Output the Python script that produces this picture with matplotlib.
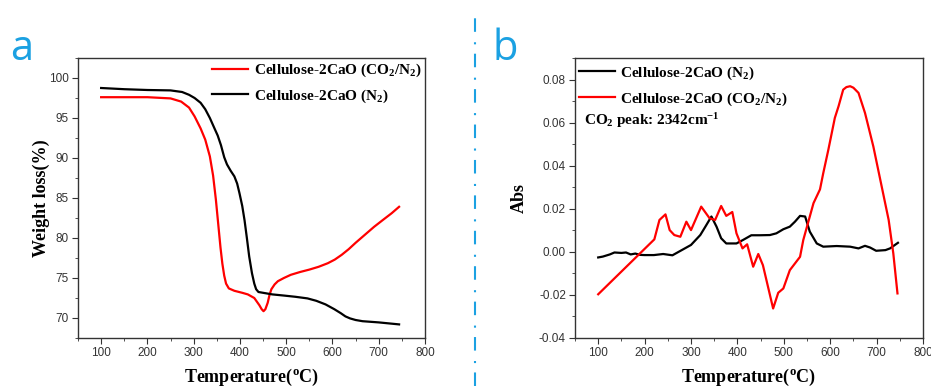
import numpy as np
import matplotlib
matplotlib.use("Agg")
import matplotlib.pyplot as plt

# TGA data (panel a)
t_co2 = [100, 200, 250, 273, 290, 302, 315, 325, 335, 342, 348, 353, 358, 362, 366, 370,
         376, 388, 405, 417, 431, 442, 447, 451, 455, 460, 464, 468, 475, 482, 495, 510,
         530, 550, 570, 590, 605, 620, 635, 650, 670, 690, 710, 728, 744]
w_co2 = [97.6, 97.6, 97.45, 97.05, 96.3, 95.2, 93.7, 92.3, 90.2, 87.8, 84.8, 81.8, 78.8,
         76.8, 75.3, 74.3, 73.7, 73.4, 73.15, 72.95, 72.5, 71.6, 71.1, 70.85, 71.1, 71.9,
         72.9, 73.6, 74.2, 74.6, 75.0, 75.4, 75.75, 76.05, 76.4, 76.85, 77.3, 77.9, 78.6,
         79.4, 80.4, 81.4, 82.3, 83.1, 83.9]
t_n2 = [100, 150, 200, 250, 275, 290, 302, 315, 325, 335, 345, 352, 359, 366, 372, 380,
        388, 394, 399, 405, 410, 415, 420, 426, 431, 435, 440, 455, 470, 496, 520, 546,
        565, 585, 604, 618, 628, 638, 650, 665, 700, 744]
w_n2 = [98.75, 98.6, 98.5, 98.45, 98.25, 97.9, 97.5, 96.9, 96.1, 95.0, 93.7, 92.8, 91.6,
        90.1, 89.2, 88.4, 87.7, 86.8, 85.6, 84.0, 82.2, 80.0, 77.7, 75.6, 74.3, 73.6, 73.25,
        73.1, 72.95, 72.8, 72.65, 72.45, 72.15, 71.7, 71.1, 70.6, 70.2, 69.95, 69.75, 69.6,
        69.45, 69.2]

# FTIR CO2 absorbance data (panel b)
tb_n2 = [100, 110, 125, 135, 150, 160, 170, 180, 190, 200, 220, 240, 260, 280, 300, 320, 331,
         344, 355, 365, 376, 398, 412, 430, 448, 470, 484, 499, 513, 524, 535, 546, 556, 571,
         585, 614, 643, 661, 675, 686, 699, 719, 729, 746]
ab_n2 = [-0.0026, -0.0022, -0.0012, -0.0003, -0.0005, -0.0003, -0.0012, -0.0008, -0.0014,
         -0.0015, -0.0015, -0.001, -0.0016, 0.0008, 0.0032, 0.0078, 0.0117, 0.0164, 0.0117,
         0.0063, 0.0039, 0.0039, 0.0055, 0.0077, 0.0077, 0.0078, 0.0086, 0.0105, 0.0117,
         0.014, 0.0167, 0.0164, 0.0094, 0.0039, 0.0024, 0.0027, 0.0024, 0.0016, 0.0028,
         0.002, 0.0005, 0.0008, 0.0016, 0.0042]
tb_co2 = [100, 221, 232, 245, 254, 264, 277, 290, 300, 322, 340, 352, 365, 376, 389, 398,
          411, 421, 434, 445, 455, 477, 488, 499, 513, 535, 542, 564, 578, 585, 596, 610,
          618, 628, 635, 643, 650, 661, 675, 693, 711, 726, 736, 745]
ab_co2 = [-0.0197, 0.0058, 0.0148, 0.0174, 0.0101, 0.0078, 0.007, 0.014, 0.0101, 0.021,
          0.0156, 0.0148, 0.0213, 0.0167, 0.0185, 0.0086, 0.0016, 0.0035, -0.0069, -0.001,
          -0.0062, -0.0263, -0.019, -0.017, -0.0085, -0.0023, 0.0055, 0.0226, 0.029, 0.0365,
          0.0474, 0.0622, 0.0676, 0.0753, 0.0765, 0.0769, 0.0762, 0.0738, 0.0645, 0.0489,
          0.0303, 0.0148, -0.0007, -0.0193]

lab_co2 = 'Cellulose-2CaO (CO$_2$/N$_2$)'
lab_n2 = 'Cellulose-2CaO (N$_2$)'

plt.rcParams['mathtext.fontset'] = 'custom'
plt.rcParams['mathtext.rm'] = 'Liberation Serif:bold'
plt.rcParams['mathtext.bf'] = 'Liberation Serif:bold'
plt.rcParams['mathtext.it'] = 'Liberation Serif:bold'

serif = dict(family='Liberation Serif', weight='bold')
W, H = 931, 386
fig = plt.figure(figsize=(W / 100, H / 100), dpi=100)


def make_axes(x0, x1, y0, y1):
    ax = fig.add_axes([x0 / W, 1 - y1 / H, (x1 - x0) / W, (y1 - y0) / H])
    for s in ax.spines.values():
        s.set_color('#333333')
        s.set_linewidth(1.0)
    ax.tick_params(which='both', direction='out', colors='#333333', labelsize=8.5,
                   top=False, right=False, pad=2.5)
    ax.tick_params(which='major', length=4)
    ax.tick_params(which='minor', length=2.5)
    ax.set_xlim(50, 800)
    ax.set_xticks(np.arange(100, 801, 100))
    ax.set_xticks(np.arange(50, 801, 50), minor=True)
    return ax


def sans_ticks(ax):
    for lbl in ax.get_xticklabels() + ax.get_yticklabels():
        lbl.set_family('Liberation Sans')


leg_kw = dict(frameon=False, prop=dict(size=11, **serif), handlelength=2.35,
              handletextpad=0.35, labelspacing=0.55, borderpad=0.15, borderaxespad=0.1)

# Panel a
ax1 = make_axes(78, 425, 58, 338)
ax1.plot(t_co2, w_co2, color='red', lw=1.6, label=lab_co2)
ax1.plot(t_n2, w_n2, color='black', lw=1.6, label=lab_n2)
ax1.set_ylim(67.5, 102.5)
ax1.set_yticks(np.arange(70, 101, 5))
ax1.set_yticks(np.arange(67.5, 102.6, 2.5), minor=True)
ax1.set_xlabel('Temperature($^o$C)', fontsize=13, labelpad=5.5, **serif)
ax1.set_ylabel('Weight loss(%)', fontsize=13, labelpad=-1, **serif)
ax1.legend(loc='upper right', **leg_kw)
sans_ticks(ax1)

# Panel b
ax2 = make_axes(575, 923, 58, 338)
ax2.plot(tb_n2, ab_n2, color='black', lw=1.6, label=lab_n2)
ax2.plot(tb_co2, ab_co2, color='red', lw=1.6, label=lab_co2)
ax2.set_ylim(-0.04, 0.09)
ax2.set_yticks(np.arange(-0.04, 0.081, 0.02))
ax2.set_yticks(np.arange(-0.04, 0.091, 0.01), minor=True)
ax2.yaxis.set_major_formatter(matplotlib.ticker.FormatStrFormatter('%.2f'))
ax2.set_xlabel('Temperature($^o$C)', fontsize=13, labelpad=5.5, **serif)
ax2.set_ylabel('Abs', fontsize=13, labelpad=8, **serif)
ax2.legend(loc='upper left', bbox_to_anchor=(0.0, 0.99), **leg_kw)
ax2.text(0.026, 0.775, 'CO$_2$ peak: 2342cm$^{-1}$', transform=ax2.transAxes,
         fontsize=11, va='center', ha='left', **serif)
sans_ticks(ax2)

# Panel letters and divider
blue = '#1ba1e2'
fig.text(10 / W, 1 - 60 / H, 'a', fontsize=30, color=blue, family='Open Sans', va='baseline')
fig.text(492 / W, 1 - 60 / H, 'b', fontsize=30, color=blue, family='Open Sans', va='baseline')
fig.add_artist(plt.Line2D([475 / W, 475 / W], [0, 1 - 13 / H], color=blue, lw=1.5,
                          dashes=(6.5, 4.5, 1, 5)))

fig.savefig('out.png', dpi=100)
